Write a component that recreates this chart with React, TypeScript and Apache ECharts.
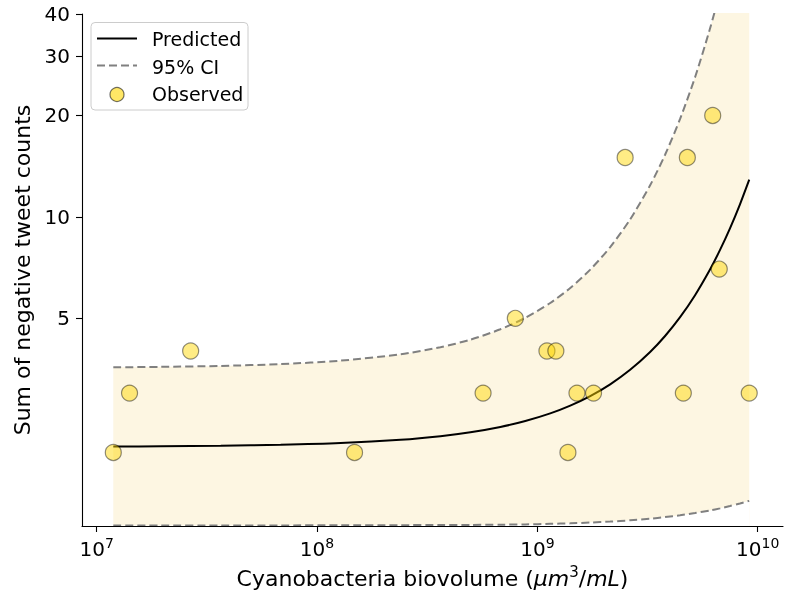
import React, { useEffect, useRef } from 'react';
import * as echarts from 'echarts';

// Observed points (biovolume in µm³/mL, sum of negative tweet counts)
const obsBiovolume = [1.19e7, 1.41e7, 2.67e7, 1.48e8, 5.67e8, 7.94e8, 1.105e9, 1.213e9, 1.376e9, 1.512e9, 1.798e9, 2.502e9, 4.596e9, 4.792e9, 6.246e9, 6.69e9, 9.15e9];
const obsCounts = [2, 3, 4, 2, 3, 5, 4, 4, 2, 3, 3, 15, 3, 15, 20, 7, 3];

// Fitted curve and 95% confidence band, read along the biovolume axis
const fitBiovolume = [1.19e7, 1.956e7, 3.658e7, 6.84e7, 1.279e8, 2.392e8, 3.631e8, 4.966e8, 6.792e8, 8.815e8, 1.144e9, 1.41e9, 1.737e9, 2.14e9, 2.636e9, 3.248e9, 3.797e9, 4.442e9, 5.194e9, 6.073e9, 6.743e9, 7.482e9, 8.305e9, 9.15e9];
const predictedCounts = [2.083, 2.086, 2.093, 2.107, 2.132, 2.18, 2.234, 2.295, 2.38, 2.479, 2.612, 2.754, 2.939, 3.185, 3.517, 3.973, 4.432, 5.041, 5.858, 6.981, 7.98, 9.247, 10.9, 12.9];
const ciUpper = [3.578, 3.589, 3.613, 3.658, 3.745, 3.912, 4.104, 4.323, 4.64, 5.019, 5.554, 6.151, 6.973, 8.134, 9.829, 12.41, 15.29, 19.53, 25.96, 36.21, 46.64, 61.66, 84.14, 115.8];
const ciLower = [1.215, 1.215, 1.215, 1.215, 1.216, 1.217, 1.218, 1.219, 1.221, 1.223, 1.228, 1.232, 1.239, 1.247, 1.258, 1.272, 1.286, 1.302, 1.322, 1.346, 1.365, 1.387, 1.411, 1.437];

// Ticks and legend
const xTickExponents = [7, 8, 9, 10];
const yTickValues = [5, 10, 20, 30, 40];
const legendLabels = ['Predicted', '95% CI', 'Observed'];

// Axis limits (raw units)
const X_MIN = 8.58e6;
const X_MAX = 1.302e10;
const Y_MIN = 1.21;
const Y_MAX = 40;

const FONT = 'DejaVu Sans';
const lg = Math.log10;

const zip = (xs: number[], ys: number[]) => xs.map((x, i) => [lg(x), lg(ys[i])]);

export default function App() {
  const ref = useRef<HTMLDivElement>(null);

  useEffect(() => {
    if (!ref.current) return;
    const chart = echarts.init(ref.current, null, { renderer: 'svg' });

    const upperLog = zip(fitBiovolume, ciUpper);
    const lowerLog = zip(fitBiovolume, ciLower);
    const SMOOTH = 0.25;

    const option: any = {
      animation: false,
      textStyle: { fontFamily: FONT },
      grid: { left: 82, right: 8, top: 14, bottom: 68, outerBoundsMode: 'none' },
      xAxis: {
        type: 'value',
        z: 10,
        min: lg(X_MIN),
        max: lg(X_MAX),
        axisLine: { show: true, onZero: false, lineStyle: { color: '#000', width: 1.1 } },
        axisTick: { show: true, length: 6, lineStyle: { color: '#000', width: 1.1 }, customValues: xTickExponents },
        axisLabel: {
          customValues: xTickExponents,
          margin: 10,
          formatter: (v: number) => `{b|10}{s|${Math.round(v)}}`,
          rich: {
            b: { fontSize: 20, lineHeight: 26, fontFamily: FONT, color: '#000' },
            s: { fontSize: 14, lineHeight: 14, verticalAlign: 'top', fontFamily: FONT, color: '#000' },
          },
        },
        splitLine: { show: false },
        name: '{n|Cyanobacteria biovolume (}{i|μm}{s|3}{n|/}{i|mL}{n|)}',
        nameLocation: 'middle',
        nameGap: 38,
        nameTextStyle: {
          fontFamily: FONT,
          fontSize: 22,
          color: '#000',
          rich: {
            n: { fontSize: 22, lineHeight: 28, fontFamily: FONT, color: '#000' },
            i: { fontSize: 22, lineHeight: 28, fontStyle: 'italic', fontFamily: FONT, color: '#000' },
            s: { fontSize: 15, lineHeight: 15, verticalAlign: 'top', fontFamily: FONT, color: '#000' },
          },
        },
      },
      yAxis: {
        type: 'value',
        z: 10,
        min: lg(Y_MIN),
        max: lg(Y_MAX),
        axisLine: { show: true, onZero: false, lineStyle: { color: '#000', width: 1.1 } },
        axisTick: { show: true, length: 6, lineStyle: { color: '#000', width: 1.1 }, customValues: yTickValues.map(lg) },
        axisLabel: {
          customValues: yTickValues.map(lg),
          margin: 12,
          fontSize: 20,
          color: '#000',
          fontFamily: FONT,
          formatter: (v: number) => String(Math.round(Math.pow(10, v))),
        },
        splitLine: { show: false },
        name: 'Sum of negative tweet counts',
        nameLocation: 'middle',
        nameGap: 45,
        nameTextStyle: { fontFamily: FONT, fontSize: 22, color: '#000' },
      },
      series: [
        {
          // band: area under the upper bound ...
          type: 'line',
          data: upperLog,
          symbol: 'none',
          smooth: SMOOTH,
          silent: true,
          lineStyle: { opacity: 0 },
          areaStyle: { color: '#FDF6E2', opacity: 1, origin: 'start' },
          z: 1,
        },
        {
          // ... minus the area under the lower bound
          type: 'line',
          data: lowerLog,
          symbol: 'none',
          smooth: SMOOTH,
          silent: true,
          lineStyle: { opacity: 0 },
          areaStyle: { color: '#ffffff', opacity: 1, origin: 'start' },
          z: 2,
        },
        {
          type: 'line',
          name: legendLabels[1],
          data: upperLog,
          symbol: 'none',
          smooth: SMOOTH,
          lineStyle: { color: '#808080', width: 2, type: [8, 4] },
          z: 3,
        },
        {
          type: 'line',
          name: legendLabels[1] + ' lower',
          data: lowerLog,
          symbol: 'none',
          smooth: SMOOTH,
          lineStyle: { color: '#808080', width: 2, type: [8, 4] },
          z: 3,
        },
        {
          type: 'line',
          name: legendLabels[0],
          data: zip(fitBiovolume, predictedCounts),
          symbol: 'none',
          smooth: SMOOTH,
          lineStyle: { color: '#000', width: 2 },
          z: 4,
        },
        {
          type: 'scatter',
          name: legendLabels[2],
          data: zip(obsBiovolume, obsCounts),
          symbol: 'circle',
          symbolSize: 16,
          itemStyle: { color: 'rgba(255,215,0,0.6)', borderColor: 'rgba(0,0,0,0.55)', borderWidth: 1.2 },
          z: 5,
        },
      ],
      graphic: [
        {
          type: 'rect',
          z: 100,
          shape: { x: 91, y: 22.5, width: 157, height: 87.5, r: 4 },
          style: { fill: 'rgba(255,255,255,0.8)', stroke: '#cccccc', lineWidth: 1 },
        },
        {
          type: 'line',
          z: 101,
          shape: { x1: 97, y1: 38.5, x2: 137, y2: 38.5 },
          style: { stroke: '#000', lineWidth: 2 },
        },
        {
          type: 'line',
          z: 101,
          shape: { x1: 97, y1: 65.5, x2: 137, y2: 65.5 },
          style: { stroke: '#808080', lineWidth: 2, lineDash: [8, 4] },
        },
        {
          type: 'circle',
          z: 101,
          shape: { cx: 117, cy: 94.5, r: 7 },
          style: { fill: 'rgba(255,215,0,0.6)', stroke: 'rgba(0,0,0,0.55)', lineWidth: 1.2 },
        },
        ...legendLabels.map((t, i) => ({
          type: 'text',
          z: 101,
          x: 152,
          y: [39, 67, 94][i],
          style: { text: t, fontSize: 19, fontFamily: FONT, fill: '#000', verticalAlign: 'middle', align: 'left' },
        })),
      ],
    };

    chart.setOption(option);
    return () => chart.dispose();
  }, []);

  return <div ref={ref} style={{ position: 'fixed', left: 0, top: 0, width: 791, height: 594 }} />;
}
